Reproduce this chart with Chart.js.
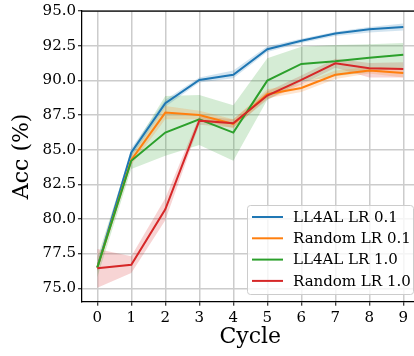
<!DOCTYPE html>
<html>
<head>
<meta charset="utf-8">
<script src="https://cdn.jsdelivr.net/npm/chart.js@4.4.1/dist/chart.umd.min.js"></script>
<style>
  html, body { margin: 0; padding: 0; overflow: hidden; background: #fff; }
  #wrap { width: 414px; height: 356px; overflow: hidden; }
</style>
</head>
<body>
<div id="wrap"><canvas id="accCanvas" width="420" height="356"></canvas></div>
<script>
const cycles = [0, 1, 2, 3, 4, 5, 6, 7, 8, 9];
const yTicks = [75.0, 77.5, 80.0, 82.5, 85.0, 87.5, 90.0, 92.5, 95.0];

// LL4AL LR 0.1
const ll4al01   = [76.5, 84.8, 88.35, 90.03, 90.4, 92.24, 92.86, 93.38, 93.68, 93.85];
const ll4al01Lo = [76.2, 84.5, 88.1, 89.85, 90.15, 92.05, 92.7, 93.2, 93.45, 93.6];
const ll4al01Hi = [76.8, 85.1, 88.6, 90.2, 90.7, 92.45, 93.0, 93.5, 93.85, 94.1];
// Random LR 0.1
const random01   = [76.5, 84.25, 87.67, 87.5, 86.85, 89.0, 89.45, 90.4, 90.7, 90.53];
const random01Lo = [76.2, 83.9, 87.2, 87.2, 86.55, 88.7, 89.15, 90.1, 90.5, 90.2];
const random01Hi = [76.8, 84.6, 88.15, 87.8, 87.2, 89.35, 89.75, 90.7, 90.95, 90.9];
// LL4AL LR 1.0
const ll4al10   = [76.5, 84.2, 86.23, 87.19, 86.23, 89.98, 91.18, 91.37, 91.63, 91.85];
const ll4al10Lo = [75.8, 83.6, 84.55, 85.34, 84.2, 88.6, 89.9, 90.3, 90.6, 90.9];
const ll4al10Hi = [77.2, 84.9, 88.87, 88.94, 88.2, 91.6, 92.42, 92.55, 92.6, 92.7];
// Random LR 1.0
const random10   = [76.45, 76.69, 80.7, 87.09, 86.9, 88.9, 90.03, 91.23, 90.87, 90.82];
const random10Lo = [75.03, 76.1, 79.9, 86.8, 86.6, 88.6, 89.7, 90.9, 90.2, 90.2];
const random10Hi = [77.84, 77.3, 81.5, 87.4, 87.2, 89.2, 90.35, 91.55, 91.25, 91.3];

const series = [
  { label: "LL4AL LR 0.1", color: "#1f77b4", band: "rgba(31,119,180,0.2)", mid: ll4al01, lo: ll4al01Lo, hi: ll4al01Hi },
  { label: "Random LR 0.1", color: "#ff7f0e", band: "rgba(255,127,14,0.2)", mid: random01, lo: random01Lo, hi: random01Hi },
  { label: "LL4AL LR 1.0", color: "#2ca02c", band: "rgba(44,160,44,0.2)", mid: ll4al10, lo: ll4al10Lo, hi: ll4al10Hi },
  { label: "Random LR 1.0", color: "#d62728", band: "rgba(214,39,40,0.2)", mid: random10, lo: random10Lo, hi: random10Hi }
];

const pts = arr => arr.map((v, i) => ({ x: cycles[i], y: v }));

const datasets = [];
series.forEach((s, k) => {
  datasets.push({
    data: pts(s.lo), borderColor: "transparent", borderWidth: 0,
    pointRadius: 0, fill: false, order: 10, isBand: true
  });
  datasets.push({
    data: pts(s.hi), borderColor: "transparent", borderWidth: 0,
    pointRadius: 0, backgroundColor: s.band, fill: "-1", order: 10, isBand: true
  });
});
series.forEach((s, k) => {
  datasets.push({
    label: s.label, data: pts(s.mid), borderColor: s.color, backgroundColor: s.color,
    borderWidth: 2, pointRadius: 0, fill: false, order: 4 - k
  });
});

const boxPlugin = {
  id: "boxLegend",
  afterDraw(chart) {
    const ctx = chart.ctx;
    const ca = chart.chartArea;
    ctx.save();
    // top spine
    ctx.strokeStyle = "#000";
    ctx.lineWidth = 1.25;
    ctx.beginPath();
    ctx.moveTo(ca.left, ca.top);
    ctx.lineTo(ca.right, ca.top);
    ctx.stroke();

    // legend
    const right = 413, bottom = 294, left = 247, top = 205;
    ctx.fillStyle = "rgba(255,255,255,0.8)";
    ctx.strokeStyle = "#cccccc";
    ctx.lineWidth = 1;
    ctx.beginPath();
    ctx.roundRect(left + 0.5, top + 0.5, right - left, bottom - top, 3);
    ctx.fill();
    ctx.stroke();
    ctx.font = "15px 'DejaVu Serif'";
    ctx.textBaseline = "middle";
    ctx.textAlign = "left";
    series.forEach((s, i) => {
      const y = top + 12 + i * 21.3;
      ctx.strokeStyle = s.color;
      ctx.lineWidth = 2;
      ctx.beginPath();
      ctx.moveTo(252, y);
      ctx.lineTo(283, y);
      ctx.stroke();
      ctx.fillStyle = "#000";
      ctx.fillText(s.label, 293, y + 1);
    });
    ctx.restore();
  }
};

Chart.defaults.font.family = "'DejaVu Serif'";
Chart.defaults.color = "#000";

const accChart = new Chart(document.getElementById("accCanvas"), {
  type: "line",
  data: { datasets: datasets },
  plugins: [boxPlugin],
  options: {
    responsive: false,
    animation: false,
    layout: { padding: { top: 11, right: 1.4, left: 0, bottom: 0 } },
    elements: { line: { tension: 0 } },
    plugins: { legend: { display: false }, tooltip: { enabled: false } },
    scales: {
      x: {
        type: "linear",
        min: -0.45,
        max: 9.45,
        afterBuildTicks: scale => { scale.ticks = cycles.map(v => ({ value: v })); },
        afterFit: scale => { scale.height = 54.3; },
        ticks: { font: { size: 15 }, padding: 3, callback: v => String(v) },
        grid: { color: "#cccccc", lineWidth: 1.5, tickColor: "#000", tickLength: 4, tickWidth: 1 },
        border: { color: "#000", width: 1.25 },
        title: { display: true, text: "Cycle", font: { size: 22 }, padding: { top: 0, bottom: 6 } }
      },
      y: {
        min: 74.03,
        max: 95,
        afterBuildTicks: scale => { scale.ticks = yTicks.map(v => ({ value: v })); },
        afterFit: scale => { scale.width = 82; },
        ticks: { font: { size: 15 }, padding: 2, callback: v => Number(v).toFixed(1) },
        grid: { color: "#cccccc", lineWidth: 1.5, tickColor: "#000", tickLength: 4, tickWidth: 1 },
        border: { color: "#000", width: 1.25 },
        title: { display: true, text: "Acc (%)", font: { size: 22 }, padding: { top: 9, bottom: 0 } }
      }
    }
  }
});
</script>
</body>
</html>
